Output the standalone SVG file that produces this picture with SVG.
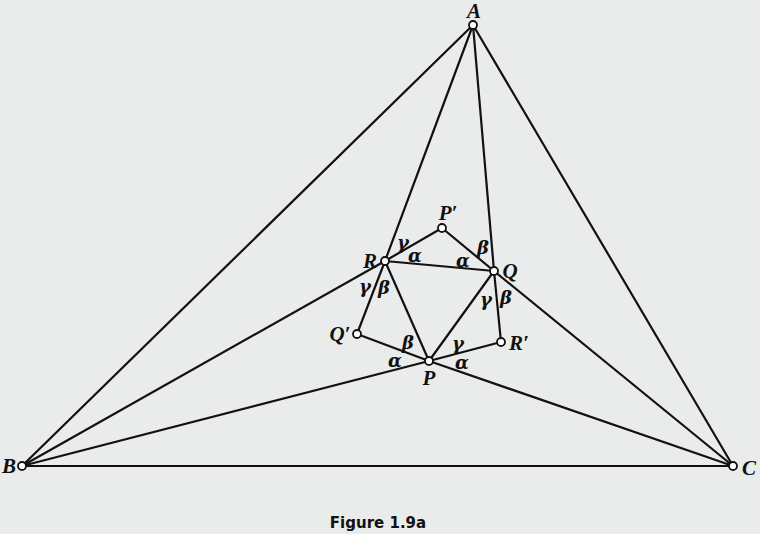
<svg xmlns="http://www.w3.org/2000/svg" width="760" height="534" viewBox="0 0 760 534">
<style>
.ln{stroke:#111;stroke-width:2.2;fill:none;stroke-linecap:round}
.pt{fill:#fff;stroke:#111;stroke-width:1.8}
.lb{font-family:"Liberation Serif",serif;font-style:italic;font-weight:bold;font-size:21px;fill:#111;text-anchor:middle}
.gk{font-family:"DejaVu Serif","Liberation Serif",serif;font-style:italic;font-weight:bold;font-size:18px;fill:#111;text-anchor:middle;dominant-baseline:central}
.cap{font-family:"DejaVu Sans","Liberation Sans",sans-serif;font-weight:bold;font-size:15px;fill:#111;text-anchor:middle}
</style>
<rect width="760" height="534" fill="#e9ecea"/>
<g id="connectors">
<line class="ln" x1="473" y1="25" x2="22" y2="466"/>
<line class="ln" x1="473" y1="25" x2="733" y2="466"/>
<line class="ln" x1="22" y1="466" x2="733" y2="466"/>
<line class="ln" x1="473" y1="25" x2="385" y2="261"/>
<line class="ln" x1="385" y1="261" x2="357" y2="334"/>
<line class="ln" x1="473" y1="25" x2="494" y2="271"/>
<line class="ln" x1="494" y1="271" x2="501" y2="342"/>
<line class="ln" x1="22" y1="466" x2="385" y2="261"/>
<line class="ln" x1="385" y1="261" x2="442" y2="228"/>
<line class="ln" x1="22" y1="466" x2="429" y2="361"/>
<line class="ln" x1="429" y1="361" x2="501" y2="342"/>
<line class="ln" x1="733" y1="466" x2="494" y2="271"/>
<line class="ln" x1="494" y1="271" x2="442" y2="228"/>
<line class="ln" x1="733" y1="466" x2="429" y2="361"/>
<line class="ln" x1="429" y1="361" x2="357" y2="334"/>
<line class="ln" x1="385" y1="261" x2="494" y2="271"/>
<line class="ln" x1="494" y1="271" x2="429" y2="361"/>
<line class="ln" x1="429" y1="361" x2="385" y2="261"/>
</g>
<g id="A"><circle class="pt" cx="473" cy="25" r="4"/><text class="lb" x="474" y="18">A</text></g>
<g id="B"><circle class="pt" cx="22" cy="466" r="4"/><text class="lb" x="9" y="473">B</text></g>
<g id="C"><circle class="pt" cx="733" cy="466" r="4"/><text class="lb" x="749" y="475">C</text></g>
<g id="R"><circle class="pt" cx="385" cy="261" r="4"/><text class="lb" x="370" y="268">R</text></g>
<g id="Q"><circle class="pt" cx="494" cy="271" r="4"/><text class="lb" x="510" y="278">Q</text></g>
<g id="P"><circle class="pt" cx="429" cy="361" r="4"/><text class="lb" x="429" y="385">P</text></g>
<g id="P2"><circle class="pt" cx="442" cy="228" r="4"/><text class="lb" x="448" y="220">P′</text></g>
<g id="Q2"><circle class="pt" cx="357" cy="334" r="4"/><text class="lb" x="340" y="341">Q′</text></g>
<g id="R2"><circle class="pt" cx="501" cy="342" r="4"/><text class="lb" x="519" y="350">R′</text></g>
<g id="angles">
<text class="gk" x="403" y="242">γ</text>
<text class="gk" x="415" y="255">α</text>
<text class="gk" x="463" y="260">α</text>
<text class="gk" x="483" y="247">β</text>
<text class="gk" x="365" y="286">γ</text>
<text class="gk" x="384" y="287">β</text>
<text class="gk" x="486" y="299">γ</text>
<text class="gk" x="506" y="297">β</text>
<text class="gk" x="408" y="342">β</text>
<text class="gk" x="458" y="343">γ</text>
<text class="gk" x="395" y="360">α</text>
<text class="gk" x="462" y="362">α</text>
</g>
<text class="cap" x="378" y="528">Figure 1.9a</text>
</svg>
